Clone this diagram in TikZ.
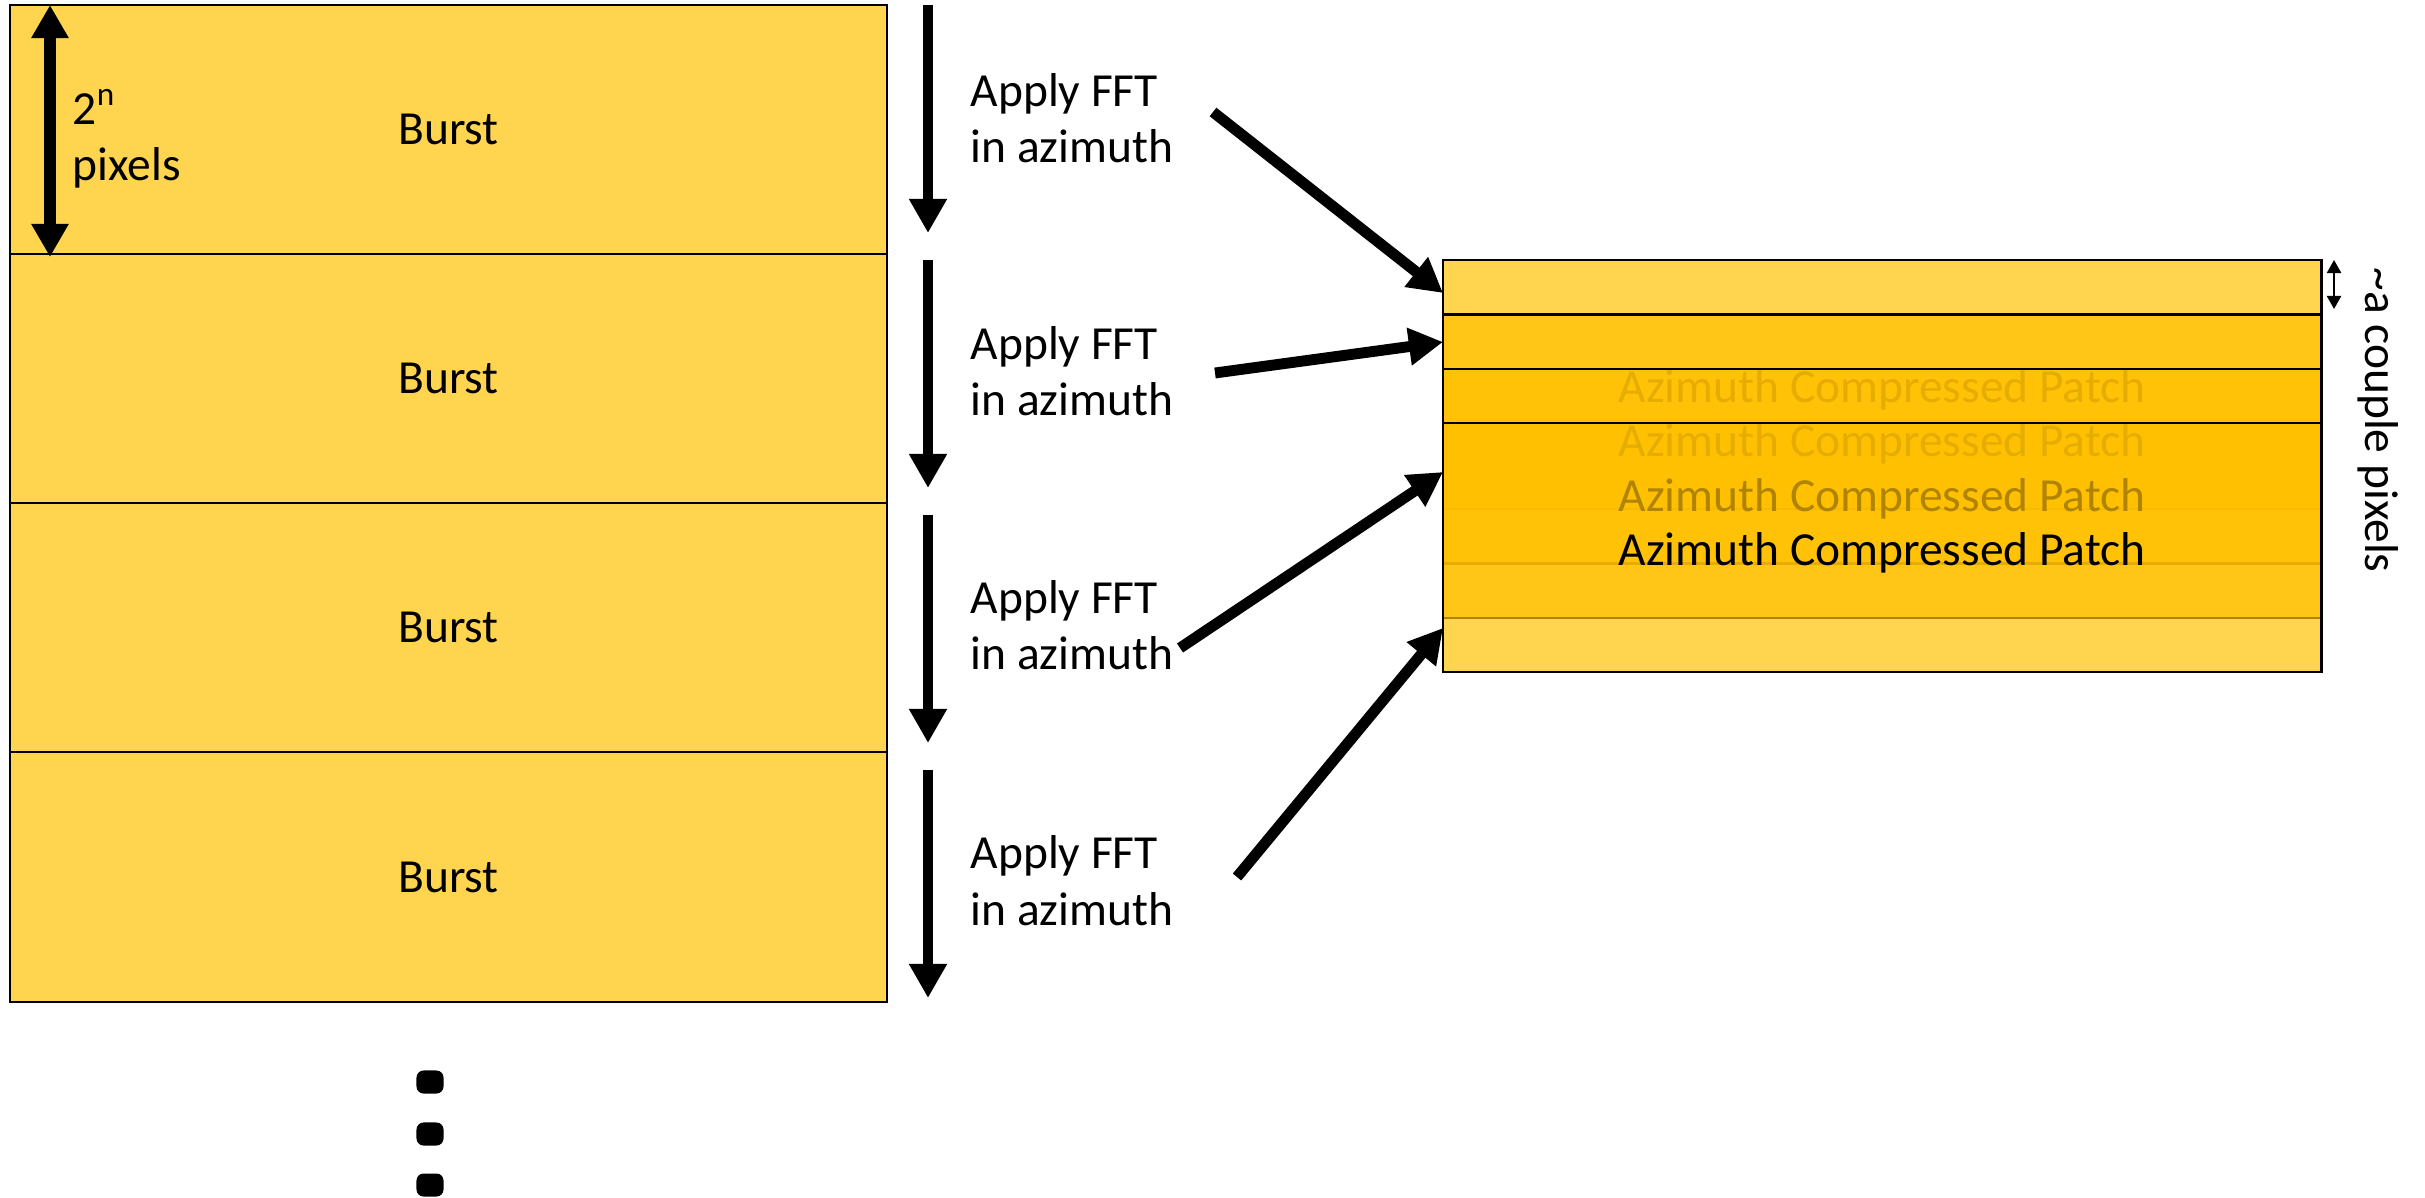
\documentclass[tikz,border=0pt]{standalone}
\usepackage{fontspec}
\setmainfont{Carlito}
\usetikzlibrary{arrows.meta}
\definecolor{burstfill}{HTML}{FFD44F}
\definecolor{patchfill}{HTML}{FFC000}
\begin{document}
\begin{tikzpicture}[x=0.01cm,y=-0.01cm,
  font=\fontsize{13.5}{16.2}\selectfont,
  burst/.style={draw=black, line width=0.6pt, fill=burstfill,
    minimum width=8.77cm, minimum height=2.49cm, inner sep=0pt},
  patch/.style={draw=black, line width=0.7pt, fill=patchfill,
    fill opacity=0.69, text opacity=1, text depth=0pt,
    minimum width=8.78cm, minimum height=2.49cm, inner sep=0pt},
  fftlabel/.style={align=left, inner sep=0pt, anchor=base west},
  flow/.style={line width=3.1pt, -{Triangle[width=10.2pt,length=9.7pt]}},
  span/.style={line width=3.4pt,
    {Triangle[width=10pt,length=9.4pt]}-{Triangle[width=10pt,length=9.4pt]}},
  smallspan/.style={line width=0.6pt,
    {Triangle[width=4pt,length=3.7pt]}-{Triangle[width=4pt,length=3.7pt]}},
  dotbox/.style={fill=black, rounded corners=2pt, minimum width=0.27cm,
    minimum height=0.23cm, inner sep=0pt}]
\useasboundingbox (0,0) rectangle (2425,1198);

% column of bursts
\node[burst] (b1) at (448.5,129.5) {Burst};
\node[burst] (b2) at (448.5,378.5) {Burst};
\node[burst] (b3) at (448.5,627.5) {Burst};
\node[burst] (b4) at (448.5,877) {Burst};

% burst height marker
\coordinate (h1) at (50,5);
\coordinate (h2) at (50,257);
\draw[span] (h1) -- (h2);
\node[fftlabel] (hn) at (72,181) {2\textsuperscript{n}\\pixels};

% ellipsis below the bursts
\node[dotbox] (d1) at (430,1082) {};
\node[dotbox] (d2) at (430,1134) {};
\node[dotbox] (d3) at (430,1185) {};

% FFT steps
\coordinate (a1s) at (928,5);   \coordinate (a1e) at (928,233);
\coordinate (a2s) at (928,260); \coordinate (a2e) at (928,488);
\coordinate (a3s) at (928,515); \coordinate (a3e) at (928,743);
\coordinate (a4s) at (928,770); \coordinate (a4e) at (928,998);
\draw[flow] (a1s) -- (a1e);
\draw[flow] (a2s) -- (a2e);
\draw[flow] (a3s) -- (a3e);
\draw[flow] (a4s) -- (a4e);

\node[fftlabel] (f1) at (970,163) {Apply FFT\\in azimuth};
\node[fftlabel] (f2) at (970,416) {Apply FFT\\in azimuth};
\node[fftlabel] (f3) at (970,670) {Apply FFT\\in azimuth};
\node[fftlabel] (f4) at (970,925) {Apply FFT\\in azimuth};

% overlapping compressed patches, each one row lower than the last
\node[patch] (p1) at (1882,384.5) {\raisebox{-2.5\dimexpr0.01cm}{Azimuth Compressed Patch}};
\node[patch] (p2) at (1882,439) {\raisebox{-2.5\dimexpr0.01cm}{Azimuth Compressed Patch}};
\node[patch] (p3) at (1882,493.5) {\raisebox{-2.5\dimexpr0.01cm}{Azimuth Compressed Patch}};
\node[patch] (p4) at (1882,547.5) {\raisebox{-2.5\dimexpr0.01cm}{Azimuth Compressed Patch}};

% patch offset marker
\coordinate (o1) at (2334,260);
\coordinate (o2) at (2334,309);
\draw[smallspan] (o1) -- (o2);
\node[rotate=-90, inner sep=0pt] (cp) at (2378,420) {\textasciitilde a couple pixels};

% bursts feeding the patches
\coordinate (s1) at (1213,112);  \coordinate (t1) at (1443,293);
\coordinate (s2) at (1215,373);  \coordinate (t2) at (1443,342);
\coordinate (s3) at (1180,648);  \coordinate (t3) at (1443,472);
\coordinate (s4) at (1237,877);  \coordinate (t4) at (1443,628);
\draw[flow] (s1) -- (t1);
\draw[flow] (s2) -- (t2);
\draw[flow] (s3) -- (t3);
\draw[flow] (s4) -- (t4);
\end{tikzpicture}
\end{document}
